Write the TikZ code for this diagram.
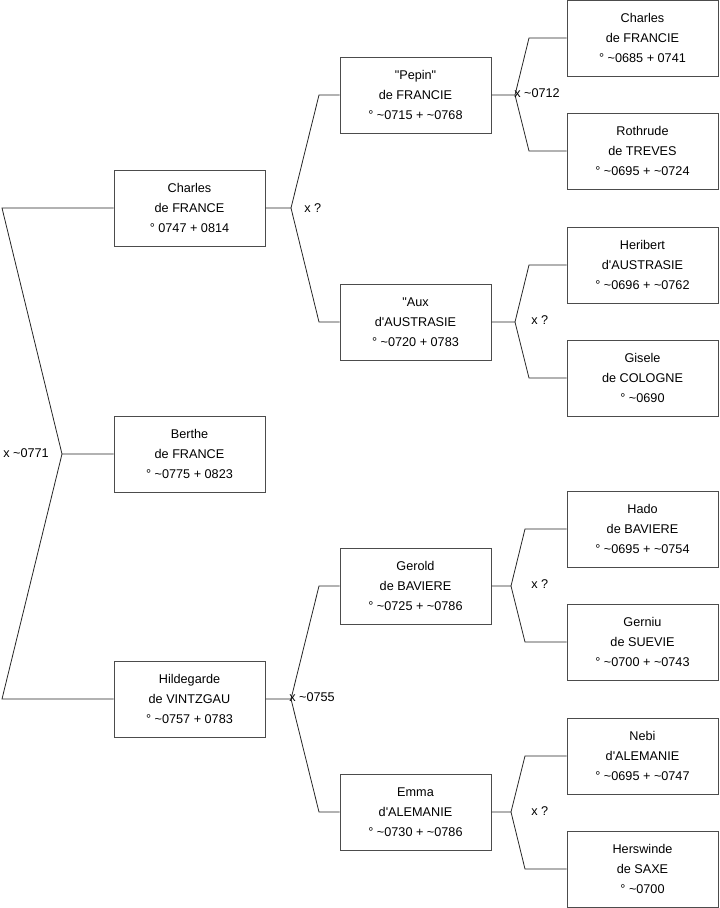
\documentclass[tikz,border=0pt]{standalone}
\usepackage{fontspec}
\setmainfont{Liberation Sans}[Ligatures=TeXOff]
\usetikzlibrary{positioning, calc}

\newcommand{\circa}{\textasciitilde}

\tikzset{
  person/.style={draw=black!70, line width=0.75pt, fill=white,
    minimum width=113.25pt, minimum height=57pt, inner sep=0pt,
    align=center, font=\fontsize{9.5}{15}\selectfont},
  link/.style={draw=black!85, line width=0.6pt},
  union/.style={anchor=west, inner sep=0pt, font=\fontsize{9.5}{11}\selectfont},
}

\begin{document}
\begin{tikzpicture}[x=0.75pt, y=-0.75pt]
    \useasboundingbox (0,0) rectangle (719,908);
    % generation 0 and 1
    \node[person] (charles)    at (189.5,208) {Charles\\de FRANCE\\° 0747 + 0814};
    \node[person] (berthe)     at (189.5,454) {Berthe\\de FRANCE\\° \circa0775 + 0823};
    \node[person] (hildegarde) at (189.5,699) {Hildegarde\\de VINTZGAU\\° \circa0757 + 0783};
    % generation 2
    \node[person] (pepin)  at (415.5,95)  {"Pepin"\\de FRANCIE\\° \circa0715 + \circa0768};
    \node[person] (aux)    at (415.5,322) {"Aux\\d'AUSTRASIE\\° \circa0720 + 0783};
    \node[person] (gerold) at (415.5,586) {Gerold\\de BAVIERE\\° \circa0725 + \circa0786};
    \node[person] (emma)   at (415.5,812) {Emma\\d'ALEMANIE\\° \circa0730 + \circa0786};
    % generation 3
    \node[person] (charlesf)  at (642.5,38)  {Charles\\de FRANCIE\\° \circa0685 + 0741};
    \node[person] (rothrude)  at (642.5,151) {Rothrude\\de TREVES\\° \circa0695 + \circa0724};
    \node[person] (heribert)  at (642.5,265) {Heribert\\d'AUSTRASIE\\° \circa0696 + \circa0762};
    \node[person] (gisele)    at (642.5,378) {Gisele\\de COLOGNE\\° \circa0690};
    \node[person] (hado)      at (642.5,529) {Hado\\de BAVIERE\\° \circa0695 + \circa0754};
    \node[person] (gerniu)    at (642.5,642) {Gerniu\\de SUEVIE\\° \circa0700 + \circa0743};
    \node[person] (nebi)      at (642.5,756) {Nebi\\d'ALEMANIE\\° \circa0695 + \circa0747};
    \node[person] (herswinde) at (642.5,869) {Herswinde\\de SAXE\\° \circa0700};

    % parents of Berthe
    \coordinate (b0) at (62,454);
    \draw[link] (berthe.west) -- (b0) -- (2,208) -- (charles.west);
    \draw[link] (b0) -- (2,699) -- (hildegarde.west);
    \node[union] (u0) at (3,453) {x \circa0771};

    % parents of Charles
    \coordinate (b1) at (291,208);
    \draw[link] (charles.east) -- (b1) -- (319,95) -- (pepin.west);
    \draw[link] (b1) -- (319,322) -- (aux.west);
    \node[union] (u1) at (304,208) {x ?};

    % parents of Hildegarde
    \coordinate (b2) at (291,699);
    \draw[link] (hildegarde.east) -- (b2) -- (319,586) -- (gerold.west);
    \draw[link] (b2) -- (319,812) -- (emma.west);
    \node[union] (u2) at (289,697) {x \circa0755};

    % parents of Pepin
    \coordinate (b3) at (515,95);
    \draw[link] (pepin.east) -- (b3) -- (529,38) -- (charlesf.west);
    \draw[link] (b3) -- (529,151) -- (rothrude.west);
    \node[union] (u3) at (514,93) {x \circa0712};

    % parents of Aux
    \coordinate (b4) at (515,322);
    \draw[link] (aux.east) -- (b4) -- (529,265) -- (heribert.west);
    \draw[link] (b4) -- (529,378) -- (gisele.west);
    \node[union] (u4) at (531,320) {x ?};

    % parents of Gerold
    \coordinate (b5) at (511,586);
    \draw[link] (gerold.east) -- (b5) -- (525,529) -- (hado.west);
    \draw[link] (b5) -- (525,642) -- (gerniu.west);
    \node[union] (u5) at (531,584) {x ?};

    % parents of Emma
    \coordinate (b6) at (511,812);
    \draw[link] (emma.east) -- (b6) -- (525,756) -- (nebi.west);
    \draw[link] (b6) -- (525,869) -- (herswinde.west);
    \node[union] (u6) at (531,811) {x ?};
\end{tikzpicture}
\end{document}
